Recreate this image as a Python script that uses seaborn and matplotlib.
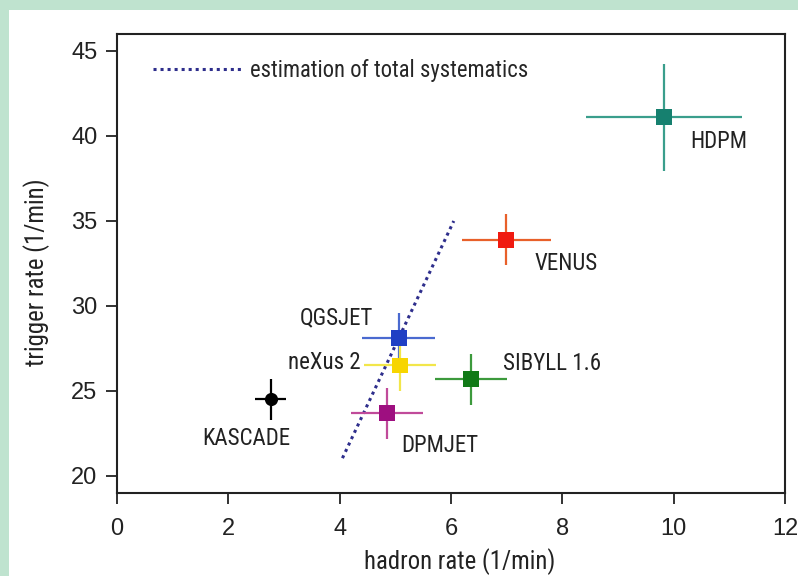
import numpy as np
import pandas as pd
import matplotlib
matplotlib.use("Agg")
import matplotlib.pyplot as plt
import seaborn as sns
from matplotlib import font_manager
from matplotlib.font_manager import FontProperties
from matplotlib.patches import Rectangle

# model predictions vs. KASCADE measurement
models = ["HDPM", "VENUS", "QGSJET", "neXus 2", "SIBYLL 1.6", "DPMJET", "KASCADE"]
hadron_rate = [9.82, 6.99, 5.06, 5.08, 6.36, 4.85, 2.76]
trigger_rate = [41.1, 33.9, 28.1, 26.5, 25.7, 23.7, 24.5]
hadron_err = [1.4, 0.8, 0.65, 0.65, 0.64, 0.65, 0.28]
trigger_err = [3.15, 1.5, 1.5, 1.5, 1.5, 1.5, 1.2]
colors = ["#16806f", "#f01a10", "#1f3fc4", "#f7d500", "#117a17", "#9e0f80", "#000000"]
bar_colors = ["#3a9e8c", "#e8602a", "#4a6ad0", "#f2e64a", "#3c9a3c", "#c04a9a", "#000000"]

# dotted systematics line
syst_x = [4.05, 6.05]
syst_y = [21.05, 35.0]

# label anchors
label_x = [10.29, 7.5, 4.61, 4.38, 6.94, 5.1, 2.32]
label_y = [39.7, 32.5, 29.3, 26.65, 26.6, 21.8, 22.2]
label_ha = ["left", "left", "right", "right", "left", "left", "center"]

df = pd.DataFrame({"model": models, "hadron": hadron_rate, "trigger": trigger_rate})

sns.set_theme(style="ticks")
plt.rcParams["font.family"] = ["Liberation Sans", "DejaVu Sans"]

# look for a narrow face for the labels
narrow = None
for fam in ["Liberation Sans Narrow", "Roboto Condensed", "Open Sans Condensed", "DejaVu Sans"]:
    try:
        path = font_manager.findfont(FontProperties(family=fam, stretch="condensed"),
                                     fallback_to_default=False)
    except ValueError:
        continue
    if "Narrow" in path or "Condensed" in path:
        narrow = path
        break


def label_font(size):
    if narrow is not None:
        return FontProperties(fname=narrow, size=size)
    return FontProperties(family=["Liberation Sans", "DejaVu Sans"], size=size * 0.84)


fig = plt.figure(figsize=(7.98, 5.76), dpi=100)
fig.patch.set_facecolor("#bfe3cf")
fig.patches.append(Rectangle((9 / 798, 0), 1, 1 - 10 / 576, transform=fig.transFigure,
                             facecolor="white", edgecolor="none", zorder=-1))
ax = fig.add_axes([0.1466, 0.1441, 0.8371, 0.7969])
ax.set_facecolor("white")

for i in range(len(models)):
    ax.errorbar(hadron_rate[i], trigger_rate[i], xerr=hadron_err[i], yerr=trigger_err[i],
                fmt="none", ecolor=bar_colors[i], elinewidth=1.6, capsize=0, zorder=2)

sns.scatterplot(data=df[df.model != "KASCADE"], x="hadron", y="trigger", hue="model",
                palette=dict(zip(models, colors)), marker="s", s=130, linewidth=0,
                legend=False, ax=ax, zorder=3)
sns.scatterplot(data=df[df.model == "KASCADE"], x="hadron", y="trigger", color="black",
                marker="o", s=90, linewidth=0, legend=False, ax=ax, zorder=3)

ax.plot(syst_x, syst_y, linestyle=(0, (1, 1.3)), color="#2e2e8c", linewidth=2.2,
        label="estimation of total systematics", zorder=1)

for i, name in enumerate(models):
    ax.text(label_x[i], label_y[i], name, ha=label_ha[i], va="center",
            fontproperties=label_font(16.5), color="#222222")

ax.legend(loc="upper left", frameon=False, prop=label_font(16.3), handlelength=4.0,
          handletextpad=0.3, bbox_to_anchor=(0.033, 0.976), borderaxespad=0.2)

ax.set_xlim(0, 12)
ax.set_ylim(19, 46)
ax.set_xticks(np.arange(0, 13, 2))
ax.set_yticks(np.arange(20, 46, 5))
ax.tick_params(direction="out", length=8, width=1.3, labelsize=17, colors="#222222")
ax.tick_params(axis="x", pad=10)
ax.tick_params(axis="y", pad=6)
for sp in ax.spines.values():
    sp.set_visible(True)
    sp.set_linewidth(1.5)
    sp.set_color("#222222")
ax.set_xlabel("hadron rate (1/min)", fontproperties=label_font(17.8), color="#222222")
ax.set_ylabel("trigger rate (1/min)", fontproperties=label_font(17.8), color="#222222")
ax.xaxis.set_label_coords(0.513, -0.12)
ax.yaxis.set_label_coords(-0.1, 0.48)

fig.savefig("out.png", dpi=100, facecolor=fig.get_facecolor())
